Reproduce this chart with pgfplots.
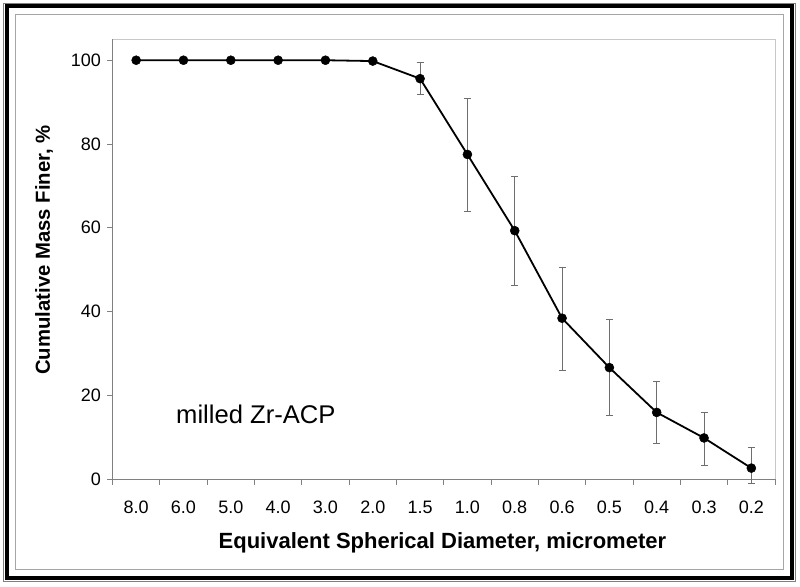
\documentclass[border=0pt]{standalone}
\usepackage{pgfplots}
\pgfplotsset{compat=1.18}
\usepackage{fontspec}
\setmainfont{Liberation Sans}
\definecolor{ebgray}{HTML}{6E6E6E}
\definecolor{axgray}{HTML}{808080}
\definecolor{boxgray}{HTML}{C8C8C8}
\begin{document}
\begin{tikzpicture}
\path[use as bounding box] (0,0) rectangle (800pt,586pt);
\fill[white] (0,0) rectangle (800pt,586pt);
% outer frame
\draw[gray, line width=1pt] (3.5pt,582.5pt) rectangle (795.5pt,4.5pt);
\draw[black, line width=4pt] (6.5pt,579.5pt) rectangle (792pt,8pt);
\draw[gray!70, line width=1pt] (15pt,571pt) rectangle (783pt,16pt);
\begin{axis}[
  at={(112.5pt,107pt)}, anchor=south west,
  scale only axis, width=662.5pt, height=439.7pt,
  xmin=-0.5, xmax=13.5, ymin=0, ymax=105,
  clip=false,
  axis lines*=left,
  axis line style={axgray, line width=0.8pt},
  xtick={0,...,13},
  xticklabels={8.0,6.0,5.0,4.0,3.0,2.0,1.5,1.0,0.8,0.6,0.5,0.4,0.3,0.2},
  minor xtick={-0.5,0.5,...,13.5},
  ytick={0,20,40,60,80,100},
  tick align=outside,
  major tick length=5pt,
  minor tick length=6pt,
  major x tick style={draw=none},
  tick style={axgray, line width=0.8pt},
  /pgf/number format/assume math mode=true,
  tick label style={font=\fontsize{18}{20}\selectfont},
  yticklabel style={xshift=-3pt},
  xticklabel style={anchor=base, yshift=-29.5pt},
  xlabel={Equivalent Spherical Diameter, micrometer},
  ylabel={Cumulative Mass Finer, \%},
  xlabel style={font=\bfseries\fontsize{22}{24}\selectfont, at={(axis description cs:0.498,-0.157)}, anchor=base},
  ylabel style={font=\bfseries\fontsize{20.3}{24}\selectfont, at={(axis description cs:-0.1034,0.5208)}, anchor=center},
]
\draw[boxgray, line width=0.8pt] (rel axis cs:0,1) -- (rel axis cs:1,1) -- (rel axis cs:1,0);
\addplot[draw=none, mark=none,
  error bars/.cd, y dir=both, y explicit,
  error bar style={ebgray, line width=0.9pt},
  error mark options={ebgray, rotate=90, mark size=3.5pt, line width=0.9pt}]
  table[x=x, y=y, y error plus=ep, y error minus=em] {
x y ep em
6 95.6 3.8 3.7
7 77.5 13.4 13.7
8 59.3 12.9 13.1
9 38.4 12.2 12.4
10 26.6 11.5 11.5
11 15.9 7.3 7.5
12 9.8 6.1 6.6
13 2.6 4.9 3.6
};
\addplot[black, line width=1.8pt, mark=*, mark size=4.5pt, mark options={solid, fill=black, line width=0.5pt}]
  table[x=x, y=y] {
x y
0 100
1 100
2 100
3 100
4 100
5 99.8
6 95.6
7 77.5
8 59.3
9 38.4
10 26.6
11 15.9
12 9.8
13 2.6
};
\node[anchor=base west, inner sep=0pt, font=\fontsize{25.6}{28}\selectfont] at (axis cs:0.842,13.3) {milled Zr-ACP};
\end{axis}
\end{tikzpicture}
\end{document}
